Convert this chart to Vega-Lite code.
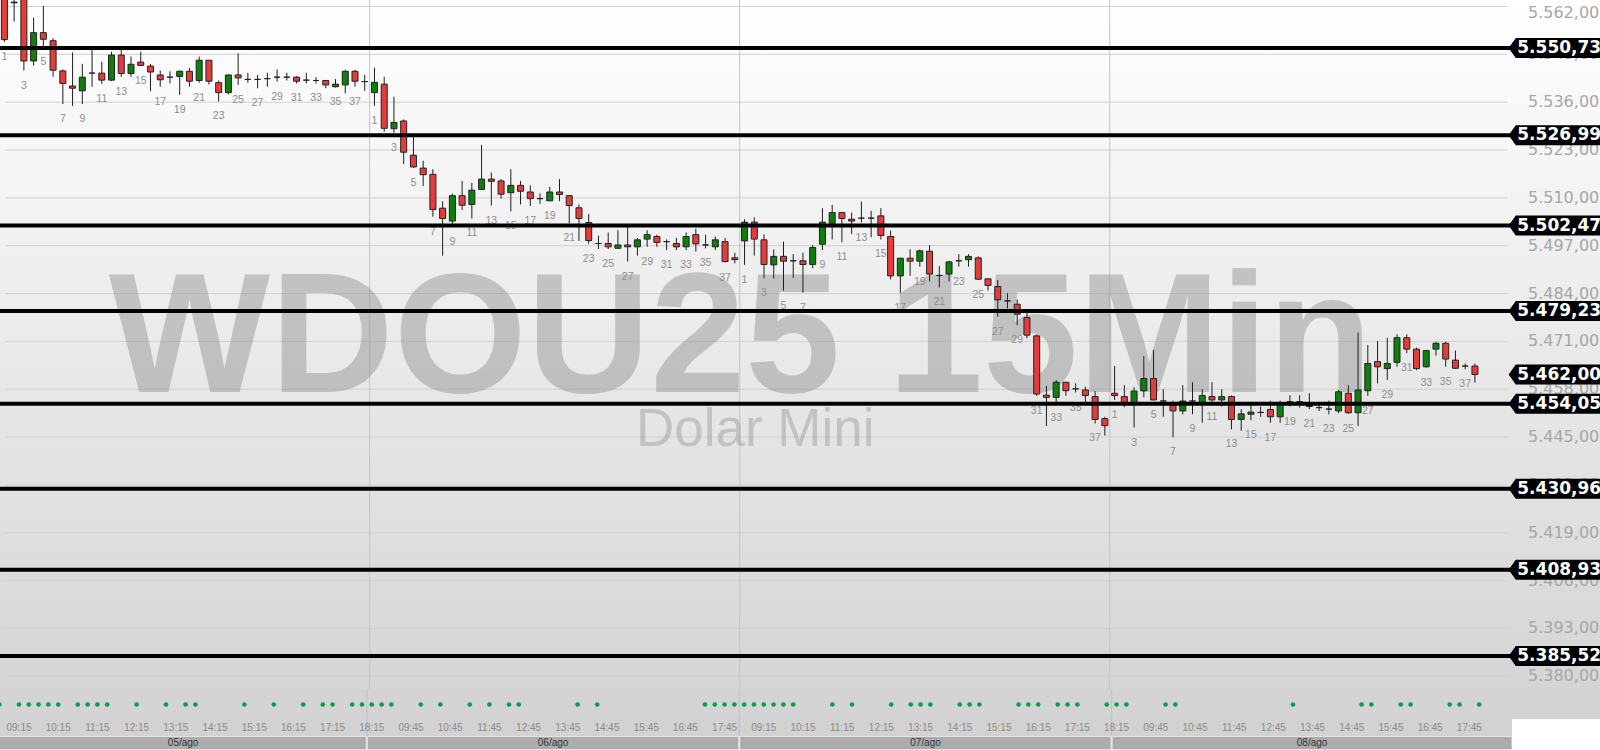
{
  "$schema": "https://vega.github.io/schema/vega-lite/v6.json",
  "background": "#ffffff",
  "padding": 0,
  "spacing": 0,
  "config": {
    "view": {"stroke": null},
    "concat": {"spacing": 0},
    "font": "Liberation Sans",
    "locale": {"number": {"decimal": ",", "thousands": ".", "grouping": [3], "currency": ["R$", ""]}}
  },
  "resolve": {"scale": {"x": "independent", "y": "independent"}},
  "datasets": {
    "candles": [
      {"i":0,"n":1,"o":5568,"h":5572,"l":5552.4,"c":5553},
      {"i":1,"n":2,"o":5563.2,"h":5566,"l":5557.9,"c":5563.0},
      {"i":2,"n":3,"o":5566,"h":5568,"l":5544.6,"c":5547.2},
      {"i":3,"n":4,"o":5547.2,"h":5559.0,"l":5545.9,"c":5554.9},
      {"i":4,"n":5,"o":5554.9,"h":5562.2,"l":5551.1,"c":5553.1},
      {"i":5,"n":6,"o":5552.7,"h":5553.4,"l":5542.9,"c":5544.7},
      {"i":6,"n":7,"o":5544.5,"h":5544.9,"l":5535.5,"c":5541.1},
      {"i":7,"n":8,"o":5540.4,"h":5549.5,"l":5535.0,"c":5539.8},
      {"i":8,"n":9,"o":5539.1,"h":5546.4,"l":5535.5,"c":5542.8},
      {"i":9,"n":10,"o":5543.9,"h":5550.4,"l":5540.2,"c":5543.9},
      {"i":10,"n":11,"o":5543.9,"h":5547.0,"l":5541.0,"c":5542.0},
      {"i":11,"n":12,"o":5542.0,"h":5549.7,"l":5541.7,"c":5548.8},
      {"i":12,"n":13,"o":5548.8,"h":5550.2,"l":5542.9,"c":5543.8},
      {"i":13,"n":14,"o":5543.8,"h":5548.4,"l":5542.9,"c":5546.3},
      {"i":14,"n":15,"o":5546.9,"h":5549.7,"l":5545.9,"c":5546.0},
      {"i":15,"n":16,"o":5545.8,"h":5546.4,"l":5539.0,"c":5544.2},
      {"i":16,"n":17,"o":5543.4,"h":5544.6,"l":5540.2,"c":5542.1},
      {"i":17,"n":18,"o":5542.8,"h":5544.4,"l":5541.1,"c":5542.8},
      {"i":18,"n":19,"o":5543.0,"h":5544.6,"l":5538.0,"c":5544.4},
      {"i":19,"n":20,"o":5544.4,"h":5545.3,"l":5540.2,"c":5541.7},
      {"i":20,"n":21,"o":5541.9,"h":5548.4,"l":5541.3,"c":5547.4},
      {"i":21,"n":22,"o":5547.4,"h":5547.4,"l":5540.8,"c":5541.7},
      {"i":22,"n":23,"o":5541.3,"h":5541.9,"l":5536.2,"c":5538.6},
      {"i":23,"n":24,"o":5538.6,"h":5543.5,"l":5538.1,"c":5543.4},
      {"i":24,"n":25,"o":5543.4,"h":5549.3,"l":5540.7,"c":5542.6},
      {"i":25,"n":26,"o":5542.2,"h":5544.0,"l":5541.3,"c":5542.2},
      {"i":26,"n":27,"o":5542.2,"h":5543.4,"l":5539.8,"c":5542.2},
      {"i":27,"n":28,"o":5542.4,"h":5544.0,"l":5540.2,"c":5542.4},
      {"i":28,"n":29,"o":5542.8,"h":5544.9,"l":5541.6,"c":5542.8},
      {"i":29,"n":30,"o":5542.8,"h":5544.0,"l":5541.9,"c":5542.8},
      {"i":30,"n":31,"o":5542.8,"h":5543.1,"l":5541.1,"c":5541.7},
      {"i":31,"n":32,"o":5542.0,"h":5544.0,"l":5541.1,"c":5542.0},
      {"i":32,"n":33,"o":5541.9,"h":5542.8,"l":5541.1,"c":5541.9},
      {"i":33,"n":34,"o":5541.9,"h":5542.0,"l":5539.8,"c":5540.7},
      {"i":34,"n":35,"o":5540.2,"h":5542.3,"l":5540.0,"c":5540.9},
      {"i":35,"n":36,"o":5540.7,"h":5544.8,"l":5538.4,"c":5544.4},
      {"i":36,"n":37,"o":5544.4,"h":5544.8,"l":5540.2,"c":5541.7},
      {"i":37,"n":38,"o":5541.6,"h":5543.4,"l":5539.1,"c":5541.6},
      {"i":38,"n":1,"o":5538.6,"h":5545.4,"l":5535.0,"c":5541.4},
      {"i":39,"n":2,"o":5540.9,"h":5542.9,"l":5528.0,"c":5528.9},
      {"i":40,"n":3,"o":5528.8,"h":5537.5,"l":5527.7,"c":5530.5},
      {"i":41,"n":4,"o":5530.9,"h":5531.3,"l":5519.2,"c":5522.4},
      {"i":42,"n":5,"o":5521.6,"h":5526.5,"l":5518.2,"c":5518.4},
      {"i":43,"n":6,"o":5518.1,"h":5520.1,"l":5513.2,"c":5516.3},
      {"i":44,"n":7,"o":5516.4,"h":5517.8,"l":5504.9,"c":5506.8},
      {"i":45,"n":8,"o":5507.2,"h":5509.1,"l":5494.3,"c":5504.4},
      {"i":46,"n":9,"o":5503.7,"h":5511.2,"l":5502.2,"c":5510.6},
      {"i":47,"n":10,"o":5510.6,"h":5514.6,"l":5506.7,"c":5508.0},
      {"i":48,"n":11,"o":5508.2,"h":5514.1,"l":5504.4,"c":5512.1},
      {"i":49,"n":12,"o":5512.3,"h":5524.4,"l":5512.1,"c":5515.1},
      {"i":50,"n":13,"o":5515.1,"h":5516.9,"l":5507.9,"c":5514.5},
      {"i":51,"n":14,"o":5514.6,"h":5515.1,"l":5509.8,"c":5511.0},
      {"i":52,"n":15,"o":5511.4,"h":5517.8,"l":5506.3,"c":5513.4},
      {"i":53,"n":16,"o":5513.4,"h":5514.6,"l":5508.2,"c":5511.8},
      {"i":54,"n":17,"o":5511.6,"h":5513.4,"l":5507.8,"c":5509.8},
      {"i":55,"n":18,"o":5509.8,"h":5511.2,"l":5508.4,"c":5509.8},
      {"i":56,"n":19,"o":5509.2,"h":5513.0,"l":5509.1,"c":5511.6},
      {"i":57,"n":20,"o":5511.6,"h":5515.1,"l":5509.1,"c":5510.9},
      {"i":58,"n":21,"o":5510.6,"h":5510.7,"l":5503.1,"c":5507.9},
      {"i":59,"n":22,"o":5507.3,"h":5508.2,"l":5498.3,"c":5504.4},
      {"i":60,"n":23,"o":5503.3,"h":5505.6,"l":5497.5,"c":5498.4},
      {"i":61,"n":24,"o":5497.6,"h":5499.7,"l":5496.1,"c":5497.6},
      {"i":62,"n":25,"o":5497.6,"h":5500.6,"l":5496.1,"c":5496.7},
      {"i":63,"n":26,"o":5496.3,"h":5501.2,"l":5496.2,"c":5497.2},
      {"i":64,"n":27,"o":5497.2,"h":5502.4,"l":5492.7,"c":5496.7},
      {"i":65,"n":28,"o":5496.7,"h":5499.1,"l":5494.3,"c":5498.6},
      {"i":66,"n":29,"o":5498.8,"h":5501.2,"l":5496.7,"c":5500.0},
      {"i":67,"n":30,"o":5499.5,"h":5500.0,"l":5496.7,"c":5497.9},
      {"i":68,"n":31,"o":5498.1,"h":5498.7,"l":5495.8,"c":5498.1},
      {"i":69,"n":32,"o":5497.6,"h":5499.1,"l":5495.8,"c":5496.7},
      {"i":70,"n":33,"o":5496.7,"h":5500.6,"l":5495.8,"c":5499.5},
      {"i":71,"n":34,"o":5500.0,"h":5501.6,"l":5495.4,"c":5497.5},
      {"i":72,"n":35,"o":5497.2,"h":5500.0,"l":5496.3,"c":5497.2},
      {"i":73,"n":36,"o":5496.7,"h":5499.5,"l":5495.8,"c":5498.6},
      {"i":74,"n":37,"o":5498.1,"h":5499.1,"l":5492.4,"c":5492.7},
      {"i":75,"n":38,"o":5493.7,"h":5495.1,"l":5492.2,"c":5493.2},
      {"i":76,"n":1,"o":5498.3,"h":5504.2,"l":5491.8,"c":5503.4},
      {"i":77,"n":2,"o":5503.4,"h":5504.7,"l":5494.3,"c":5498.8},
      {"i":78,"n":3,"o":5498.6,"h":5500.1,"l":5488.1,"c":5491.9},
      {"i":79,"n":4,"o":5491.8,"h":5496.0,"l":5488.1,"c":5494.1},
      {"i":80,"n":5,"o":5494.1,"h":5498.1,"l":5484.8,"c":5492.8},
      {"i":81,"n":6,"o":5492.9,"h":5494.7,"l":5488.3,"c":5492.9},
      {"i":82,"n":7,"o":5492.9,"h":5495.1,"l":5484.2,"c":5491.9},
      {"i":83,"n":8,"o":5491.9,"h":5497.2,"l":5490.9,"c":5496.5},
      {"i":84,"n":9,"o":5497.4,"h":5507.2,"l":5495.8,"c":5503.4},
      {"i":85,"n":10,"o":5503.1,"h":5508.1,"l":5498.7,"c":5506.0},
      {"i":86,"n":11,"o":5506.0,"h":5506.1,"l":5497.9,"c":5504.4},
      {"i":87,"n":12,"o":5504.2,"h":5506.0,"l":5500.2,"c":5503.7},
      {"i":88,"n":13,"o":5504.5,"h":5509.0,"l":5503.3,"c":5504.5},
      {"i":89,"n":14,"o":5504.5,"h":5506.5,"l":5499.3,"c":5504.5},
      {"i":90,"n":15,"o":5505.1,"h":5507.2,"l":5498.7,"c":5499.8},
      {"i":91,"n":16,"o":5499.5,"h":5501.1,"l":5487.9,"c":5488.8},
      {"i":92,"n":17,"o":5488.8,"h":5493.7,"l":5484.2,"c":5493.6},
      {"i":93,"n":18,"o":5493.6,"h":5496.0,"l":5488.8,"c":5492.8},
      {"i":94,"n":19,"o":5492.8,"h":5496.0,"l":5491.3,"c":5495.6},
      {"i":95,"n":20,"o":5495.5,"h":5497.2,"l":5487.3,"c":5489.3},
      {"i":96,"n":21,"o":5488.9,"h":5491.5,"l":5485.7,"c":5488.9},
      {"i":97,"n":22,"o":5489.3,"h":5492.9,"l":5487.3,"c":5492.6},
      {"i":98,"n":23,"o":5492.9,"h":5494.7,"l":5491.3,"c":5492.9},
      {"i":99,"n":24,"o":5493.2,"h":5494.7,"l":5491.3,"c":5494.1},
      {"i":100,"n":25,"o":5493.7,"h":5494.1,"l":5487.7,"c":5487.9},
      {"i":101,"n":26,"o":5488.0,"h":5488.1,"l":5484.8,"c":5486.2},
      {"i":102,"n":27,"o":5485.9,"h":5487.7,"l":5477.7,"c":5482.3},
      {"i":103,"n":28,"o":5482.0,"h":5484.1,"l":5480.0,"c":5482.0},
      {"i":104,"n":29,"o":5481.1,"h":5482.4,"l":5475.4,"c":5478.4},
      {"i":105,"n":30,"o":5477.5,"h":5479.2,"l":5471.8,"c":5472.7},
      {"i":106,"n":31,"o":5472.5,"h":5472.9,"l":5456.2,"c":5456.7},
      {"i":107,"n":32,"o":5456.4,"h":5458.9,"l":5448.0,"c":5455.8},
      {"i":108,"n":33,"o":5455.8,"h":5460.5,"l":5454.2,"c":5459.9},
      {"i":109,"n":34,"o":5459.9,"h":5460.0,"l":5456.2,"c":5457.6},
      {"i":110,"n":35,"o":5458.1,"h":5459.6,"l":5457.1,"c":5458.1},
      {"i":111,"n":36,"o":5457.8,"h":5458.7,"l":5454.6,"c":5456.3},
      {"i":112,"n":37,"o":5456.0,"h":5457.5,"l":5448.7,"c":5449.8},
      {"i":113,"n":38,"o":5450.0,"h":5450.5,"l":5445.4,"c":5448.1},
      {"i":114,"n":1,"o":5456.9,"h":5464.3,"l":5455.1,"c":5456.3},
      {"i":115,"n":2,"o":5456.0,"h":5459.1,"l":5453.1,"c":5454.4},
      {"i":116,"n":3,"o":5454.4,"h":5458.5,"l":5447.6,"c":5457.5},
      {"i":117,"n":4,"o":5457.6,"h":5467.0,"l":5455.8,"c":5460.9},
      {"i":118,"n":5,"o":5460.9,"h":5468.7,"l":5455.0,"c":5455.1},
      {"i":119,"n":6,"o":5454.8,"h":5458.0,"l":5450.5,"c":5454.8},
      {"i":120,"n":7,"o":5453.7,"h":5454.9,"l":5444.9,"c":5452.1},
      {"i":121,"n":8,"o":5452.1,"h":5459.1,"l":5451.2,"c":5454.8},
      {"i":122,"n":9,"o":5454.8,"h":5459.9,"l":5451.2,"c":5454.8},
      {"i":123,"n":10,"o":5454.4,"h":5458.0,"l":5448.9,"c":5456.3},
      {"i":124,"n":11,"o":5456.0,"h":5459.9,"l":5454.6,"c":5455.1},
      {"i":125,"n":12,"o":5455.1,"h":5458.0,"l":5453.3,"c":5456.0},
      {"i":126,"n":13,"o":5456.0,"h":5456.3,"l":5447.1,"c":5449.8},
      {"i":127,"n":14,"o":5449.8,"h":5452.6,"l":5446.7,"c":5451.3},
      {"i":128,"n":15,"o":5451.2,"h":5453.7,"l":5449.6,"c":5451.8},
      {"i":129,"n":16,"o":5451.7,"h":5453.3,"l":5450.5,"c":5451.7},
      {"i":130,"n":17,"o":5452.5,"h":5454.9,"l":5448.9,"c":5450.5},
      {"i":131,"n":18,"o":5450.5,"h":5454.9,"l":5448.9,"c":5453.7},
      {"i":132,"n":19,"o":5454.6,"h":5456.4,"l":5453.3,"c":5454.6},
      {"i":133,"n":20,"o":5454.6,"h":5456.4,"l":5453.0,"c":5454.6},
      {"i":134,"n":21,"o":5453.7,"h":5456.9,"l":5452.6,"c":5453.3},
      {"i":135,"n":22,"o":5453.0,"h":5453.7,"l":5452.1,"c":5453.0},
      {"i":136,"n":23,"o":5452.6,"h":5454.9,"l":5451.2,"c":5452.6},
      {"i":137,"n":24,"o":5452.1,"h":5457.8,"l":5451.5,"c":5457.3},
      {"i":138,"n":25,"o":5456.9,"h":5459.1,"l":5451.3,"c":5451.6},
      {"i":139,"n":26,"o":5451.6,"h":5473.4,"l":5448.0,"c":5457.8},
      {"i":140,"n":27,"o":5457.6,"h":5470.0,"l":5456.2,"c":5465.0},
      {"i":141,"n":28,"o":5465.5,"h":5471.1,"l":5459.6,"c":5464.1},
      {"i":142,"n":29,"o":5463.6,"h":5472.0,"l":5460.5,"c":5465.0},
      {"i":143,"n":30,"o":5465.3,"h":5472.9,"l":5464.1,"c":5472.0},
      {"i":144,"n":31,"o":5472.0,"h":5472.9,"l":5467.8,"c":5468.9},
      {"i":145,"n":32,"o":5468.9,"h":5469.3,"l":5463.2,"c":5463.6},
      {"i":146,"n":33,"o":5464.1,"h":5468.7,"l":5463.9,"c":5468.5},
      {"i":147,"n":34,"o":5468.9,"h":5470.9,"l":5467.1,"c":5470.5},
      {"i":148,"n":35,"o":5470.5,"h":5470.9,"l":5464.1,"c":5466.2},
      {"i":149,"n":36,"o":5465.9,"h":5468.5,"l":5463.5,"c":5463.7},
      {"i":150,"n":37,"o":5464.3,"h":5465.0,"l":5463.4,"c":5464.3},
      {"i":151,"n":38,"o":5464.3,"h":5465.0,"l":5459.8,"c":5462.0}
    ],
    "grid": [{"v":5380},{"v":5393},{"v":5406},{"v":5419},{"v":5432},{"v":5445},{"v":5458},{"v":5471},{"v":5484},{"v":5497},{"v":5510},{"v":5523},{"v":5536},{"v":5549},{"v":5562}],
    "levels": [
      {"v":5550.73,"k":"line"},{"v":5526.99,"k":"line"},{"v":5502.47,"k":"line"},{"v":5479.23,"k":"line"},
      {"v":5454.05,"k":"line"},{"v":5430.96,"k":"line"},{"v":5408.93,"k":"line"},{"v":5385.52,"k":"line"},
      {"v":5462.00,"k":"last"}
    ],
    "days": [
      {"d":"05/ago","s":-0.5,"e":37.5},
      {"d":"06/ago","s":37.5,"e":75.5},
      {"d":"07/ago","s":75.5,"e":113.5},
      {"d":"08/ago","s":113.5,"e":154.4}
    ],
    "sig": [{"i":0},{"i":2},{"i":3},{"i":4},{"i":5},{"i":6},{"i":8},{"i":9},{"i":10},{"i":11},{"i":14},{"i":17},{"i":19},{"i":20},{"i":25},{"i":28},{"i":31},{"i":33},{"i":34},{"i":36},{"i":37},{"i":38},{"i":39},{"i":40},{"i":43},{"i":45},{"i":48},{"i":50},{"i":52},{"i":53},{"i":59},{"i":61},{"i":72},{"i":73},{"i":74},{"i":75},{"i":76},{"i":77},{"i":78},{"i":79},{"i":80},{"i":81},{"i":85},{"i":87},{"i":91},{"i":93},{"i":94},{"i":95},{"i":98},{"i":99},{"i":100},{"i":104},{"i":105},{"i":106},{"i":108},{"i":109},{"i":110},{"i":113},{"i":114},{"i":115},{"i":119},{"i":120},{"i":132},{"i":139},{"i":140},{"i":143},{"i":144},{"i":148},{"i":149},{"i":151}],
    "times": [
      {"i":2,"t":"09:15"},{"i":6,"t":"10:15"},{"i":10,"t":"11:15"},{"i":14,"t":"12:15"},{"i":18,"t":"13:15"},{"i":22,"t":"14:15"},{"i":26,"t":"15:15"},{"i":30,"t":"16:15"},{"i":34,"t":"17:15"},{"i":38,"t":"18:15"},
      {"i":42,"t":"09:45"},{"i":46,"t":"10:45"},{"i":50,"t":"11:45"},{"i":54,"t":"12:45"},{"i":58,"t":"13:45"},{"i":62,"t":"14:45"},{"i":66,"t":"15:45"},{"i":70,"t":"16:45"},{"i":74,"t":"17:45"},
      {"i":78,"t":"09:15"},{"i":82,"t":"10:15"},{"i":86,"t":"11:15"},{"i":90,"t":"12:15"},{"i":94,"t":"13:15"},{"i":98,"t":"14:15"},{"i":102,"t":"15:15"},{"i":106,"t":"16:15"},{"i":110,"t":"17:15"},{"i":114,"t":"18:15"},
      {"i":118,"t":"09:45"},{"i":122,"t":"10:45"},{"i":126,"t":"11:45"},{"i":130,"t":"12:45"},{"i":134,"t":"13:45"},{"i":138,"t":"14:45"},{"i":142,"t":"15:45"},{"i":146,"t":"16:45"},{"i":150,"t":"17:45"}
    ]
  },
  "vconcat": [
    {
      "width": 1600,
      "height": 690,
      "view": {"stroke": null, "fill": {"gradient": "linear", "x1": 0, "y1": 0, "x2": 0, "y2": 1, "stops": [{"offset": 0, "color": "#ffffff"}, {"offset": 1, "color": "#d5d5d5"}]}},
      "layer": [
        {
          "data": {"name": "grid"},
          "mark": {"type": "rule", "color": "#d0d0d0", "strokeWidth": 1, "clip": true},
          "encoding": {
            "y": {"field": "v", "type": "quantitative", "scale": {"domain": [5376.27, 5563.77], "nice": false, "zero": false}, "axis": null},
            "x": {"datum": 0.0612, "type": "quantitative", "scale": {"domain": [0.0612, 163.33], "nice": false, "zero": false}, "axis": null},
            "x2": {"datum": 154.35}
          }
        },
        {
          "data": {"name": "grid"},
          "transform": [{"filter": "datum.v < 5560"}],
          "mark": {"type": "text", "font": "DejaVu Sans", "fontSize": 16, "color": "#a6a6a6", "align": "left", "baseline": "middle", "clip": true},
          "encoding": {
            "x": {"datum": 156.45, "type": "quantitative", "scale": {"domain": [0.0612, 163.33], "nice": false, "zero": false}, "axis": null},
            "y": {"field": "v", "type": "quantitative", "scale": {"domain": [5376.27, 5563.77], "nice": false, "zero": false}, "axis": null},
            "text": {"field": "v", "format": ",.2f"}
          }
        },
        {
          "data": {"name": "grid"},
          "transform": [{"filter": "datum.v >= 5560"}],
          "mark": {"type": "text", "font": "DejaVu Sans", "fontSize": 16, "color": "#a6a6a6", "align": "left", "baseline": "middle", "dy": 6, "clip": true},
          "encoding": {
            "x": {"datum": 156.45, "type": "quantitative", "scale": {"domain": [0.0612, 163.33], "nice": false, "zero": false}, "axis": null},
            "y": {"field": "v", "type": "quantitative", "scale": {"domain": [5376.27, 5563.77], "nice": false, "zero": false}, "axis": null},
            "text": {"field": "v", "format": ",.2f"}
          }
        },
        {
          "data": {"name": "days"},
          "transform": [{"filter": "datum.s > 0"}],
          "mark": {"type": "rule", "color": "#c4c4c4", "strokeWidth": 1, "clip": true},
          "encoding": {"x": {"field": "s", "type": "quantitative", "scale": {"domain": [0.0612, 163.33], "nice": false, "zero": false}, "axis": null}}
        },
        {
          "data": {"values": [{"t": "WDOU25 15Min"}]},
          "mark": {"type": "text", "font": "Liberation Sans", "fontWeight": "bold", "fontSize": 171, "color": "#8f8f8f", "opacity": 0.45, "align": "center", "baseline": "alphabetic", "clip": true},
          "encoding": {
            "x": {"datum": 75.6, "type": "quantitative", "scale": {"domain": [0.0612, 163.33], "nice": false, "zero": false}, "axis": null},
            "y": {"datum": 5457.25, "type": "quantitative", "scale": {"domain": [5376.27, 5563.77], "nice": false, "zero": false}, "axis": null},
            "text": {"field": "t"}
          }
        },
        {
          "data": {"values": [{"t": "Dolar Mini"}]},
          "mark": {"type": "text", "font": "Liberation Sans", "fontSize": 53, "color": "#999999", "opacity": 0.45, "align": "center", "baseline": "alphabetic", "clip": true},
          "encoding": {
            "x": {"datum": 77.1, "type": "quantitative", "scale": {"domain": [0.0612, 163.33], "nice": false, "zero": false}, "axis": null},
            "y": {"datum": 5442.6, "type": "quantitative", "scale": {"domain": [5376.27, 5563.77], "nice": false, "zero": false}, "axis": null},
            "text": {"field": "t"}
          }
        },
        {
          "data": {"name": "candles"},
          "transform": [{"filter": "datum.n % 2 == 1"}],
          "mark": {"type": "text", "fontSize": 10.5, "color": "#8d8d8d", "baseline": "middle", "dy": 15, "clip": true},
          "encoding": {
            "x": {"field": "i", "type": "quantitative", "scale": {"domain": [0.0612, 163.33], "nice": false, "zero": false}, "axis": null},
            "y": {"field": "l", "type": "quantitative", "scale": {"domain": [5376.27, 5563.77], "nice": false, "zero": false}, "axis": null},
            "text": {"field": "n"}
          }
        },
        {
          "data": {"name": "candles"},
          "mark": {"type": "rule", "color": "#1e1e1e", "strokeWidth": 1, "clip": true},
          "encoding": {
            "x": {"field": "i", "type": "quantitative", "scale": {"domain": [0.0612, 163.33], "nice": false, "zero": false}, "axis": null},
            "y": {"field": "l", "type": "quantitative", "scale": {"domain": [5376.27, 5563.77], "nice": false, "zero": false}, "axis": null},
            "y2": {"field": "h"}
          }
        },
        {
          "data": {"name": "candles"},
          "mark": {"type": "bar", "width": 6, "stroke": "#222222", "strokeWidth": 1, "clip": true},
          "encoding": {
            "x": {"field": "i", "type": "quantitative", "scale": {"domain": [0.0612, 163.33], "nice": false, "zero": false}, "axis": null},
            "y": {"field": "o", "type": "quantitative", "scale": {"domain": [5376.27, 5563.77], "nice": false, "zero": false}, "axis": null},
            "y2": {"field": "c"},
            "fill": {"condition": {"test": "datum.c > datum.o", "value": "#0c7f0c"}, "value": "#e63b3b"}
          }
        },
        {
          "data": {"name": "levels"},
          "transform": [{"filter": "datum.k == 'line'"}],
          "mark": {"type": "rule", "color": "#000000", "strokeWidth": 4, "clip": true},
          "encoding": {
            "y": {"field": "v", "type": "quantitative", "scale": {"domain": [5376.27, 5563.77], "nice": false, "zero": false}, "axis": null}
          }
        },
        {
          "data": {"name": "levels"},
          "mark": {"type": "point", "shape": "M-1,0L-0.87,-0.182L1,-0.182L1,0.182L-0.87,0.182Z", "size": 12100, "filled": true, "color": "#000000", "opacity": 1, "clip": true},
          "encoding": {
            "x": {"datum": 160.11, "type": "quantitative", "scale": {"domain": [0.0612, 163.33], "nice": false, "zero": false}, "axis": null},
            "y": {"field": "v", "type": "quantitative", "scale": {"domain": [5376.27, 5563.77], "nice": false, "zero": false}, "axis": null}
          }
        },
        {
          "data": {"name": "levels"},
          "mark": {"type": "text", "font": "DejaVu Sans", "fontWeight": "bold", "fontSize": 17, "color": "#ffffff", "align": "left", "baseline": "middle", "clip": true},
          "encoding": {
            "x": {"datum": 155.35, "type": "quantitative", "scale": {"domain": [0.0612, 163.33], "nice": false, "zero": false}, "axis": null},
            "y": {"field": "v", "type": "quantitative", "scale": {"domain": [5376.27, 5563.77], "nice": false, "zero": false}, "axis": null},
            "text": {"field": "v", "format": ",.2f"}
          }
        }
      ]
    },
    {
      "width": 1600,
      "height": 29,
      "view": {"stroke": null, "fill": "#d4d4d4"},
      "layer": [
        {
          "data": {"name": "days"},
          "transform": [{"filter": "datum.s > 0"}],
          "mark": {"type": "rule", "color": "#c0c0c0", "strokeWidth": 1, "clip": true},
          "encoding": {"x": {"field": "s", "type": "quantitative", "scale": {"domain": [0.0612, 163.33], "nice": false, "zero": false}, "axis": null}}
        },
        {
          "data": {"name": "sig"},
          "mark": {"type": "circle", "size": 22, "color": "#0a9d4e", "opacity": 1, "clip": true},
          "encoding": {"x": {"field": "i", "type": "quantitative", "scale": {"domain": [0.0612, 163.33], "nice": false, "zero": false}, "axis": null}}
        }
      ]
    },
    {
      "width": 1512,
      "height": 17,
      "view": {"stroke": null, "fill": "#d2d2d2"},
      "layer": [
        {
          "data": {"name": "days"},
          "transform": [{"filter": "datum.s > 0"}],
          "mark": {"type": "rule", "color": "#bdbdbd", "strokeWidth": 1, "clip": true},
          "encoding": {"x": {"field": "s", "type": "quantitative", "scale": {"domain": [0.0612, 154.35], "nice": false, "zero": false}, "axis": null}}
        },
        {
          "data": {"name": "times"},
          "mark": {"type": "text", "fontSize": 10, "color": "#8a8a8a", "baseline": "middle", "clip": true},
          "encoding": {
            "x": {"field": "i", "type": "quantitative", "scale": {"domain": [0.0612, 154.35], "nice": false, "zero": false}, "axis": null},
            "text": {"field": "t"}
          }
        }
      ]
    },
    {
      "width": 1512,
      "height": 14,
      "view": {"stroke": null, "fill": "#e4e4e4"},
      "data": {"name": "days"},
      "layer": [
        {
          "mark": {"type": "rect", "fill": "#acacac", "stroke": "#e4e4e4", "strokeWidth": 2, "clip": true},
          "encoding": {
            "x": {"field": "s", "type": "quantitative", "scale": {"domain": [0.0612, 154.35], "nice": false, "zero": false}, "axis": null},
            "x2": {"field": "e"}
          }
        },
        {
          "transform": [{"calculate": "(max(datum.s, 0) + datum.e) / 2", "as": "m"}],
          "mark": {"type": "text", "fontSize": 10, "color": "#333333", "baseline": "middle", "clip": true},
          "encoding": {
            "x": {"field": "m", "type": "quantitative", "scale": {"domain": [0.0612, 154.35], "nice": false, "zero": false}, "axis": null},
            "text": {"field": "d"}
          }
        }
      ]
    }
  ]
}
